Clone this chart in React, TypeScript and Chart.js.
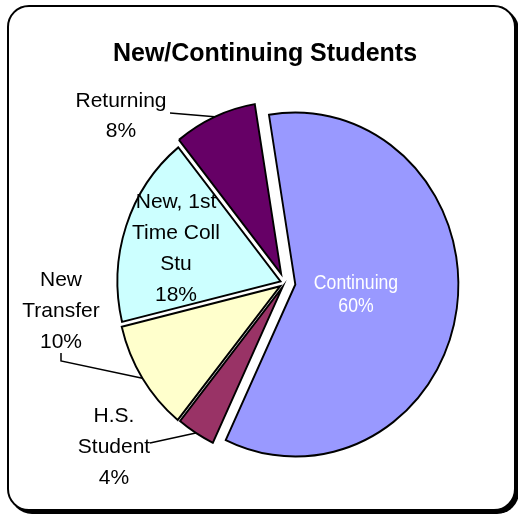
import React, { useEffect, useRef } from "react";
import { Chart, registerables } from "chart.js";

Chart.register(...registerables);

// ---- data ----
const title = "New/Continuing Students";
const categories = ["Continuing", "H.S. Student", "New Transfer", "New, 1st Time Coll Stu", "Returning"];
const values = [59.6, 3.8, 10.4, 18.0, 8.2];
const labelLines = [
  ["Continuing"],
  ["H.S.", "Student"],
  ["New", "Transfer"],
  ["New, 1st", "Time Coll", "Stu"],
  ["Returning"],
];

// ---- style ----
const colors = ["#9999FF", "#993366", "#FFFFCC", "#CCFFFF", "#660066"];
const explodePx = [11, 5, 6, 5, 10];
const PIE_SCALE_X = 0.948; // the original pie is drawn slightly narrower than tall
const FONT = "'Liberation Sans', Arial, sans-serif";

// label layout: centre x, first baseline, line height, colour, size, horizontal condense, leader points
const labelLayout = [
  { x: 356, y: 289, lh: 23, color: "#FFFFFF", size: 21, squeeze: 0.84, leader: null as null | number[][] },
  { x: 114, y: 422, lh: 31, color: "#000000", size: 21, squeeze: 1, leader: [[150, 443]] },
  { x: 61, y: 285.5, lh: 31, color: "#000000", size: 21, squeeze: 1, leader: [[61, 353], [61, 361]] },
  { x: 176, y: 208, lh: 31, color: "#000000", size: 21, squeeze: 1, leader: null },
  { x: 121, y: 107, lh: 29.5, color: "#000000", size: 21, squeeze: 1, leader: [[170, 113]] },
];

export default function App() {
  const ref = useRef<HTMLCanvasElement>(null);

  useEffect(() => {
    const canvas = ref.current;
    if (!canvas) return;

    const total = values.reduce((a, b) => a + b, 0);
    const pct = values.map((v) => `${Math.round((v / total) * 100)}%`);

    const explodePlugin = {
      id: "explodeSlices",
      afterDatasetUpdate(chart: any, args: any) {
        const meta = chart.getDatasetMeta(args.index);
        meta.data.forEach((el: any, i: number) => {
          const mid = (el.startAngle + el.endAngle) / 2;
          el.x += Math.cos(mid) * explodePx[i];
          el.y += Math.sin(mid) * explodePx[i];
        });
      },
      beforeDatasetsDraw(chart: any) {
        const ctx = chart.ctx;
        const cx = (chart.chartArea.left + chart.chartArea.right) / 2;
        ctx.save();
        ctx.translate(cx, 0);
        ctx.scale(PIE_SCALE_X, 1);
        ctx.translate(-cx, 0);
      },
      afterDatasetsDraw(chart: any) {
        chart.ctx.restore();
      },
    };

    const textPlugin = {
      id: "textLabels",
      afterDraw(chart: any) {
        const ctx = chart.ctx as CanvasRenderingContext2D;
        const cx = (chart.chartArea.left + chart.chartArea.right) / 2;
        ctx.save();
        ctx.fillStyle = "#000";
        ctx.font = `bold 25px ${FONT}`;
        ctx.textAlign = "center";
        ctx.textBaseline = "alphabetic";
        ctx.fillText(title, 265, 61);

        const meta = chart.getDatasetMeta(0);
        meta.data.forEach((el: any, i: number) => {
          const L = labelLayout[i];
          const lines = [...labelLines[i], pct[i]];
          ctx.font = `${L.size}px ${FONT}`;
          ctx.fillStyle = L.color;
          lines.forEach((t, k) => {
            const w = ctx.measureText(t).width;
            ctx.fillText(t, L.x, L.y + k * L.lh, w * L.squeeze);
          });
          if (L.leader) {
            const mid = (el.startAngle + el.endAngle) / 2;
            const rawX = el.x + Math.cos(mid) * el.outerRadius;
            const ex = cx + (rawX - cx) * PIE_SCALE_X;
            const ey = el.y + Math.sin(mid) * el.outerRadius;
            ctx.strokeStyle = "#000";
            ctx.lineWidth = 1.5;
            ctx.beginPath();
            ctx.moveTo(L.leader[0][0], L.leader[0][1]);
            for (let k = 1; k < L.leader.length; k++) ctx.lineTo(L.leader[k][0], L.leader[k][1]);
            ctx.lineTo(ex, ey);
            ctx.stroke();
          }
        });
        ctx.restore();
      },
    };

    const chart = new Chart(canvas, {
      type: "pie",
      data: {
        labels: categories,
        datasets: [
          {
            data: values,
            backgroundColor: colors,
            borderColor: "#000000",
            borderWidth: 2,
            borderJoinStyle: "miter",
          } as any,
        ],
      },
      options: {
        responsive: false,
        animation: false,
        events: [],
        rotation: -9.3,
        radius: 172,
        layout: { padding: { left: 52, top: 52, right: 0, bottom: 0 } },
        plugins: {
          legend: { display: false },
          tooltip: { enabled: false },
          title: { display: false },
        },
      } as any,
      plugins: [explodePlugin, textPlugin],
    });
    return () => chart.destroy();
  }, []);

  return (
    <div style={{ position: "fixed", left: 0, top: 0, width: 518, height: 514, background: "#fff", overflow: "hidden" }}>
      <div
        style={{
          position: "absolute",
          left: 7,
          top: 5,
          width: 509,
          height: 506,
          boxSizing: "border-box",
          border: "2px solid #000",
          borderRadius: 22,
          boxShadow: "3px 3px 0 #000",
          background: "#fff",
        }}
      />
      <canvas ref={ref} width={518} height={514} style={{ position: "absolute", left: 0, top: 0, width: 518, height: 514 }} />
    </div>
  );
}
